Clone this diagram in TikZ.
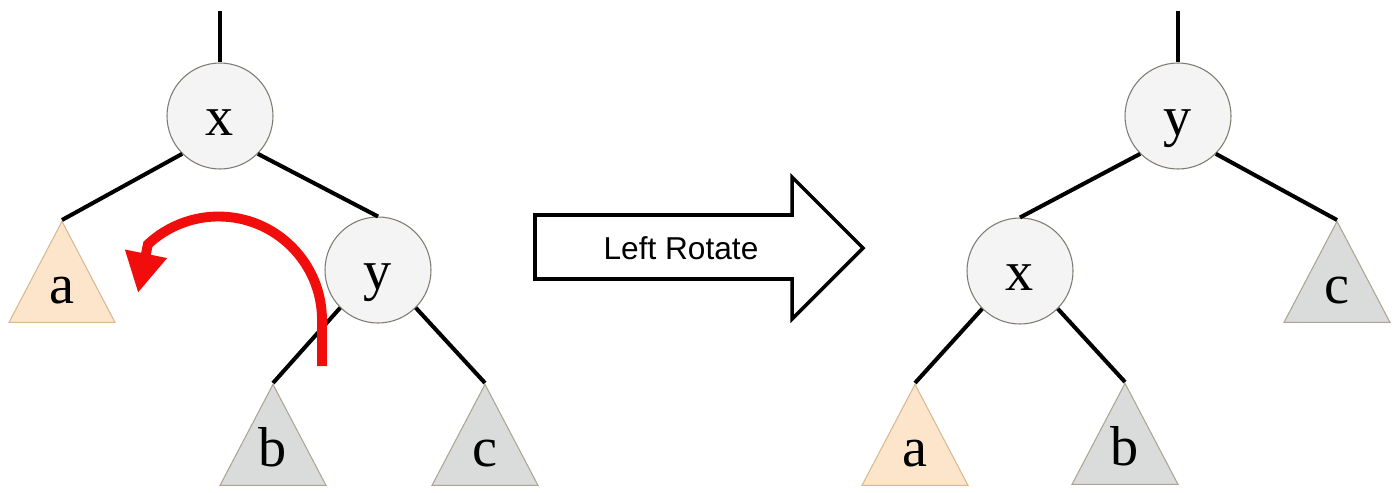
\documentclass[tikz,border=0pt]{standalone}
\usepackage{fontspec}
\setmainfont{Liberation Serif}
\newfontfamily\labelfont{Liberation Sans}
\usepackage{tikz}
\usetikzlibrary{arrows.meta,positioning,shapes.geometric}

\definecolor{nodegray}{HTML}{F4F4F4}
\definecolor{ringgray}{HTML}{7F7A72}
\definecolor{peach}{HTML}{FCE5CB}
\definecolor{peachedge}{HTML}{D6B98F}
\definecolor{leafgray}{HTML}{D9DCDA}
\definecolor{leafedge}{HTML}{ADA496}
\definecolor{rotred}{HTML}{F20D0D}

\begin{document}
\begin{tikzpicture}[
    keynode/.style={circle, draw=ringgray, line width=0.6pt, fill=nodegray, minimum size=2.12cm,
      inner sep=0pt, font=\fontsize{32}{32}\selectfont, text height=0.76cm, text depth=0pt},
    subtree/.style={isosceles triangle, isosceles triangle stretches, shape border rotate=90,
      line width=0.6pt, minimum width=2.12cm, minimum height=2.02cm, inner sep=0pt, anchor=apex},
    leaflabel/.style={anchor=base, font=\fontsize{32}{32}\selectfont, inner sep=0pt},
    branch/.style={line width=2.3pt},
    bigarrow/.style={draw, line width=2pt, line join=miter},
    turn/.style={rotred, line width=5.6pt, -{Triangle[length=0.8cm, width=0.8cm]}},
  ]
    \useasboundingbox (0,0) rectangle (28,-9.84);

    % before
    \coordinate (rootL) at (4.40,-0.22);
    \node[keynode] (xL) at (4.40,-2.32) {x};
    \node[keynode] (yL) at (7.56,-5.40) {y};
    \node[subtree, draw=peachedge, fill=peach] (a1) at (1.24,-4.40) {};
    \node[subtree, draw=leafedge, fill=leafgray] (b1) at (5.46,-7.66) {};
    \node[subtree, draw=leafedge, fill=leafgray] (c1) at (9.70,-7.66) {};
    \node[leaflabel] (a1t) at ([yshift=0.38cm]a1.south) {a};
    \node[leaflabel] (b1t) at ([yshift=0.38cm]b1.south) {b};
    \node[leaflabel] (c1t) at ([yshift=0.38cm]c1.south) {c};

    \draw[branch] (rootL) -- (xL);
    \draw[branch] (xL.south west) -- (a1.apex);
    \draw[branch] (xL.south east) -- (yL.north);
    \draw[branch] (yL.south west) -- (b1.apex);
    \draw[branch] (yL.south east) -- (c1.apex);

    \coordinate (turnstart) at (6.44,-7.32);
    \coordinate (turntip) at (2.76,-5.86);
    \draw[turn] (turnstart) -- ++(0,0.92) arc[start angle=0, end angle=133, radius=2.07] -- (turntip);

    % the rotation
    \draw[bigarrow] (10.70,-4.30) -- (15.84,-4.30) -- (15.84,-3.54) -- (17.26,-4.96)
      -- (15.84,-6.38) -- (15.84,-5.58) -- (10.70,-5.58) -- cycle;
    \node[font=\labelfont\fontsize{18}{20}\selectfont] (rot) at (13.62,-4.96) {Left Rotate};

    % after
    \coordinate (rootR) at (23.56,-0.22);
    \node[keynode] (yR) at (23.56,-2.32) {y};
    \node[keynode] (xR) at (20.40,-5.42) {x};
    \node[subtree, draw=peachedge, fill=peach] (a2) at (18.30,-7.66) {};
    \node[subtree, draw=leafedge, fill=leafgray] (b2) at (22.50,-7.64) {};
    \node[subtree, draw=leafedge, fill=leafgray] (c2) at (26.74,-4.40) {};
    \node[leaflabel] (a2t) at ([yshift=0.38cm]a2.south) {a};
    \node[leaflabel] (b2t) at ([yshift=0.38cm]b2.south) {b};
    \node[leaflabel] (c2t) at ([yshift=0.38cm]c2.south) {c};

    \draw[branch] (rootR) -- (yR);
    \draw[branch] (yR.south west) -- (xR.north);
    \draw[branch] (yR.south east) -- (c2.apex);
    \draw[branch] (xR.south west) -- (a2.apex);
    \draw[branch] (xR.south east) -- (b2.apex);
  \end{tikzpicture}
\end{document}
